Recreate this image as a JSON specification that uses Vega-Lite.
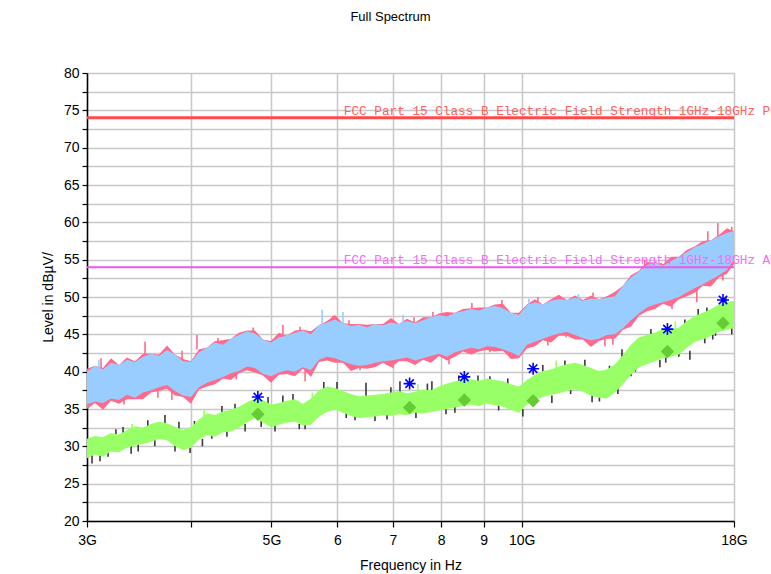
{
  "$schema": "https://vega.github.io/schema/vega-lite/v6.json",
  "width": 647,
  "height": 448,
  "autosize": {"type": "none"},
  "padding": {"left": 87, "top": 73, "right": 37, "bottom": 53},
  "background": "white",
  "title": {"text": "Full Spectrum", "fontSize": 13, "font": "Liberation Sans", "fontWeight": "normal", "color": "#000000", "offset": 42, "dx": -20, "frame": "group", "anchor": "middle"},
  "resolve": {"scale": {"color": "independent", "strokeWidth": "independent"}},
  "config": {
    "view": {"stroke": null},
    "font": "Liberation Sans",
    "axis": {
      "grid": true, "gridColor": "#c8c8c8", "gridWidth": 1.5,
      "domainColor": "#000000", "domainWidth": 1.5,
      "tickColor": "#000000", "tickWidth": 1.2,
      "labelFont": "Liberation Sans", "labelFontSize": 14, "labelColor": "#000000",
      "titleFont": "Liberation Sans", "titleFontSize": 14, "titleFontWeight": "normal", "titleColor": "#000000",
      "labelOverlap": false, "labelFlush": false
    },
    "axisX": {"tickSize": 6, "labelPadding": 6, "titlePadding": 11},
    "axisY": {"tickSize": 5, "labelPadding": 3, "titlePadding": 8}
  },
  "datasets": {
    "band": [
      {"f":3.000,"phi":40.0,"plo":35.6,"ahi":31.0,"alo":28.4,"rhi":40.4,"rlo":35.0},
      {"f":3.067,"phi":40.8,"plo":36.0,"ahi":31.4,"alo":28.9,"rhi":40.8,"rlo":35.8},
      {"f":3.136,"phi":40.3,"plo":35.8,"ahi":31.2,"alo":28.6,"rhi":40.5,"rlo":34.9},
      {"f":3.206,"phi":41.2,"plo":36.4,"ahi":31.8,"alo":29.3,"rhi":41.8,"rlo":36.1},
      {"f":3.278,"phi":40.9,"plo":36.2,"ahi":31.6,"alo":29.2,"rhi":40.9,"rlo":35.7},
      {"f":3.351,"phi":41.6,"plo":36.9,"ahi":32.2,"alo":29.8,"rhi":41.9,"rlo":36.3},
      {"f":3.426,"phi":41.3,"plo":36.5,"ahi":32.7,"alo":30.1,"rhi":41.4,"rlo":36.3},
      {"f":3.503,"phi":42.0,"plo":37.2,"ahi":32.5,"alo":30.3,"rhi":42.4,"rlo":36.3},
      {"f":3.582,"phi":42.4,"plo":37.5,"ahi":33.0,"alo":30.6,"rhi":42.4,"rlo":37.2},
      {"f":3.662,"phi":42.1,"plo":37.9,"ahi":33.3,"alo":31.0,"rhi":42.3,"rlo":37.4},
      {"f":3.744,"phi":42.9,"plo":38.2,"ahi":33.1,"alo":30.8,"rhi":43.5,"rlo":37.7},
      {"f":3.828,"phi":42.3,"plo":37.4,"ahi":32.6,"alo":30.0,"rhi":42.3,"rlo":36.8},
      {"f":3.914,"phi":41.4,"plo":36.8,"ahi":32.2,"alo":29.5,"rhi":41.7,"rlo":36.6},
      {"f":4.001,"phi":41.3,"plo":36.6,"ahi":32.6,"alo":29.8,"rhi":41.4,"rlo":35.7},
      {"f":4.091,"phi":42.6,"plo":37.9,"ahi":33.6,"alo":30.9,"rhi":43.0,"rlo":37.6},
      {"f":4.182,"phi":43.2,"plo":38.5,"ahi":34.4,"alo":31.5,"rhi":43.2,"rlo":38.0},
      {"f":4.276,"phi":43.9,"plo":38.9,"ahi":34.2,"alo":31.3,"rhi":44.1,"rlo":38.3},
      {"f":4.372,"phi":43.6,"plo":39.3,"ahi":34.7,"alo":31.9,"rhi":44.2,"rlo":39.1},
      {"f":4.470,"phi":44.4,"plo":39.8,"ahi":34.9,"alo":32.0,"rhi":44.4,"rlo":38.9},
      {"f":4.570,"phi":44.9,"plo":40.1,"ahi":35.3,"alo":32.5,"rhi":45.2,"rlo":39.8},
      {"f":4.672,"phi":45.4,"plo":40.7,"ahi":35.9,"alo":33.2,"rhi":45.5,"rlo":40.2},
      {"f":4.777,"phi":45.1,"plo":40.5,"ahi":36.4,"alo":33.8,"rhi":45.5,"rlo":39.9},
      {"f":4.884,"phi":44.3,"plo":39.7,"ahi":36.2,"alo":33.2,"rhi":44.3,"rlo":39.5},
      {"f":4.993,"phi":43.9,"plo":39.4,"ahi":35.6,"alo":32.6,"rhi":44.1,"rlo":38.5},
      {"f":5.105,"phi":44.6,"plo":39.9,"ahi":35.8,"alo":32.9,"rhi":45.2,"rlo":39.6},
      {"f":5.219,"phi":44.8,"plo":40.2,"ahi":36.1,"alo":33.2,"rhi":44.8,"rlo":39.7},
      {"f":5.336,"phi":45.2,"plo":40.0,"ahi":36.3,"alo":33.3,"rhi":45.5,"rlo":39.4},
      {"f":5.456,"phi":45.5,"plo":40.6,"ahi":35.7,"alo":32.8,"rhi":45.6,"rlo":40.4},
      {"f":5.578,"phi":45.0,"plo":40.2,"ahi":36.4,"alo":32.9,"rhi":45.4,"rlo":39.3},
      {"f":5.703,"phi":46.2,"plo":41.6,"ahi":37.5,"alo":34.0,"rhi":46.2,"rlo":41.3},
      {"f":5.831,"phi":46.6,"plo":42.0,"ahi":38.0,"alo":34.6,"rhi":46.8,"rlo":41.5},
      {"f":5.962,"phi":47.0,"plo":41.8,"ahi":37.8,"alo":34.9,"rhi":47.6,"rlo":41.2},
      {"f":6.095,"phi":46.5,"plo":41.4,"ahi":37.4,"alo":34.5,"rhi":46.5,"rlo":41.2},
      {"f":6.232,"phi":46.1,"plo":41.0,"ahi":37.0,"alo":34.1,"rhi":46.4,"rlo":40.1},
      {"f":6.371,"phi":46.3,"plo":40.8,"ahi":36.7,"alo":33.8,"rhi":46.4,"rlo":40.5},
      {"f":6.514,"phi":45.9,"plo":40.9,"ahi":36.8,"alo":33.9,"rhi":46.3,"rlo":40.4},
      {"f":6.660,"phi":46.4,"plo":41.2,"ahi":36.9,"alo":34.0,"rhi":46.4,"rlo":40.6},
      {"f":6.809,"phi":46.2,"plo":41.4,"ahi":37.0,"alo":34.2,"rhi":46.4,"rlo":41.2},
      {"f":6.962,"phi":46.6,"plo":41.5,"ahi":37.2,"alo":34.1,"rhi":47.2,"rlo":40.6},
      {"f":7.118,"phi":46.4,"plo":41.7,"ahi":37.4,"alo":34.3,"rhi":46.4,"rlo":41.4},
      {"f":7.277,"phi":46.8,"plo":41.9,"ahi":37.1,"alo":34.2,"rhi":47.1,"rlo":41.4},
      {"f":7.440,"phi":46.5,"plo":41.5,"ahi":37.3,"alo":34.5,"rhi":46.6,"rlo":40.9},
      {"f":7.607,"phi":46.9,"plo":41.8,"ahi":37.6,"alo":34.4,"rhi":47.3,"rlo":41.6},
      {"f":7.777,"phi":47.3,"plo":42.1,"ahi":37.5,"alo":34.6,"rhi":47.3,"rlo":41.2},
      {"f":7.951,"phi":47.6,"plo":42.4,"ahi":38.0,"alo":34.8,"rhi":47.8,"rlo":42.1},
      {"f":8.129,"phi":47.4,"plo":42.0,"ahi":38.4,"alo":35.0,"rhi":48.0,"rlo":41.5},
      {"f":8.311,"phi":47.9,"plo":42.6,"ahi":38.7,"alo":35.2,"rhi":47.9,"rlo":42.0},
      {"f":8.498,"phi":48.1,"plo":42.9,"ahi":38.9,"alo":35.4,"rhi":48.4,"rlo":42.7},
      {"f":8.688,"phi":48.4,"plo":43.2,"ahi":39.0,"alo":35.6,"rhi":48.5,"rlo":42.3},
      {"f":8.883,"phi":48.2,"plo":43.0,"ahi":38.8,"alo":35.4,"rhi":48.6,"rlo":42.7},
      {"f":9.081,"phi":48.6,"plo":43.4,"ahi":39.1,"alo":35.7,"rhi":48.6,"rlo":42.9},
      {"f":9.284,"phi":48.8,"plo":43.3,"ahi":38.9,"alo":35.5,"rhi":49.0,"rlo":42.7},
      {"f":9.492,"phi":48.5,"plo":43.0,"ahi":38.7,"alo":35.3,"rhi":49.1,"rlo":42.8},
      {"f":9.705,"phi":47.9,"plo":42.6,"ahi":38.3,"alo":34.9,"rhi":47.9,"rlo":41.7},
      {"f":9.922,"phi":47.6,"plo":42.1,"ahi":38.0,"alo":34.5,"rhi":47.9,"rlo":41.8},
      {"f":10.145,"phi":48.9,"plo":43.6,"ahi":38.9,"alo":35.6,"rhi":49.0,"rlo":43.1},
      {"f":10.372,"phi":49.3,"plo":44.0,"ahi":39.6,"alo":36.2,"rhi":49.7,"rlo":43.4},
      {"f":10.604,"phi":49.0,"plo":44.4,"ahi":40.1,"alo":36.6,"rhi":49.0,"rlo":44.2},
      {"f":10.842,"phi":49.5,"plo":44.8,"ahi":40.3,"alo":36.9,"rhi":49.7,"rlo":43.9},
      {"f":11.085,"phi":49.7,"plo":45.1,"ahi":40.7,"alo":37.1,"rhi":50.3,"rlo":44.8},
      {"f":11.333,"phi":49.6,"plo":45.3,"ahi":41.0,"alo":37.4,"rhi":49.6,"rlo":44.8},
      {"f":11.587,"phi":49.9,"plo":44.9,"ahi":41.2,"alo":37.6,"rhi":50.2,"rlo":44.3},
      {"f":11.846,"phi":49.5,"plo":44.5,"ahi":40.9,"alo":37.3,"rhi":49.6,"rlo":44.3},
      {"f":12.112,"phi":49.8,"plo":44.2,"ahi":40.5,"alo":36.8,"rhi":50.2,"rlo":43.3},
      {"f":12.383,"phi":49.7,"plo":44.4,"ahi":40.1,"alo":36.5,"rhi":49.7,"rlo":44.1},
      {"f":12.660,"phi":49.9,"plo":44.9,"ahi":40.3,"alo":36.4,"rhi":50.1,"rlo":44.4},
      {"f":12.944,"phi":50.1,"plo":45.0,"ahi":41.0,"alo":37.2,"rhi":50.7,"rlo":44.4},
      {"f":13.234,"phi":51.5,"plo":45.8,"ahi":42.2,"alo":38.3,"rhi":51.5,"rlo":45.6},
      {"f":13.530,"phi":52.6,"plo":46.9,"ahi":43.6,"alo":39.6,"rhi":52.9,"rlo":46.0},
      {"f":13.833,"phi":53.4,"plo":47.8,"ahi":44.6,"alo":40.6,"rhi":53.5,"rlo":47.5},
      {"f":14.143,"phi":54.3,"plo":48.6,"ahi":44.9,"alo":41.0,"rhi":54.7,"rlo":48.1},
      {"f":14.460,"phi":54.6,"plo":49.0,"ahi":45.2,"alo":41.4,"rhi":54.6,"rlo":48.4},
      {"f":14.784,"phi":54.2,"plo":49.3,"ahi":45.7,"alo":41.8,"rhi":54.4,"rlo":49.1},
      {"f":15.115,"phi":54.8,"plo":49.6,"ahi":45.6,"alo":42.0,"rhi":55.4,"rlo":48.7},
      {"f":15.453,"phi":55.4,"plo":50.0,"ahi":45.9,"alo":42.3,"rhi":55.4,"rlo":49.7},
      {"f":15.799,"phi":56.0,"plo":50.6,"ahi":46.8,"alo":43.2,"rhi":56.3,"rlo":50.1},
      {"f":16.153,"phi":56.7,"plo":51.2,"ahi":47.5,"alo":44.0,"rhi":56.8,"rlo":50.6},
      {"f":16.515,"phi":57.1,"plo":51.7,"ahi":47.9,"alo":44.3,"rhi":57.5,"rlo":51.5},
      {"f":16.885,"phi":57.6,"plo":52.3,"ahi":48.4,"alo":44.8,"rhi":57.6,"rlo":51.4},
      {"f":17.263,"phi":58.1,"plo":52.9,"ahi":49.0,"alo":45.3,"rhi":58.3,"rlo":52.6},
      {"f":17.651,"phi":58.6,"plo":53.6,"ahi":49.3,"alo":45.6,"rhi":59.2,"rlo":53.1},
      {"f":18.0,"phi":58.8,"plo":55.0,"ahi":49.5,"alo":45.8,"rhi":58.8,"rlo":54.4}
    ],
    "spikes": [
      {"f":3.017,"lo":35.2,"hi":36.6,"s":"r"},{"f":3.119,"lo":39.6,"hi":41.8,"s":"r"},{"f":3.324,"lo":35.6,"hi":37.0,"s":"r"},
      {"f":3.523,"lo":40.5,"hi":44.0,"s":"r"},{"f":3.651,"lo":36.5,"hi":38.0,"s":"r"},{"f":3.795,"lo":36.2,"hi":37.5,"s":"r"},
      {"f":3.903,"lo":41.0,"hi":42.8,"s":"r"},{"f":4.068,"lo":43.0,"hi":44.9,"s":"r"},{"f":4.312,"lo":43.0,"hi":44.5,"s":"r"},
      {"f":4.534,"lo":39.0,"hi":40.5,"s":"r"},{"f":4.753,"lo":44.5,"hi":45.9,"s":"r"},{"f":4.953,"lo":39.1,"hi":40.5,"s":"r"},
      {"f":5.161,"lo":45.0,"hi":46.3,"s":"r"},{"f":5.413,"lo":44.5,"hi":46.0,"s":"r"},{"f":5.488,"lo":38.7,"hi":40.2,"s":"r"},
      {"f":5.928,"lo":46.0,"hi":47.5,"s":"r"},{"f":6.198,"lo":45.5,"hi":46.9,"s":"r"},{"f":6.390,"lo":40.2,"hi":41.5,"s":"r"},
      {"f":7.000,"lo":40.5,"hi":41.8,"s":"r"},{"f":7.421,"lo":45.5,"hi":47.3,"s":"r"},{"f":7.819,"lo":46.5,"hi":48.0,"s":"r"},
      {"f":8.175,"lo":41.0,"hi":42.4,"s":"r"},{"f":8.711,"lo":47.5,"hi":49.2,"s":"r"},{"f":9.156,"lo":42.6,"hi":43.8,"s":"r"},
      {"f":9.466,"lo":48.0,"hi":49.6,"s":"r"},{"f":9.759,"lo":41.8,"hi":43.0,"s":"r"},{"f":10.457,"lo":48.5,"hi":50.0,"s":"r"},
      {"f":10.749,"lo":43.5,"hi":44.5,"s":"r"},{"f":11.302,"lo":44.6,"hi":45.6,"s":"r"},{"f":12.18,"lo":49.4,"hi":50.6,"s":"r"},
      {"f":12.59,"lo":43.4,"hi":44.6,"s":"r"},{"f":12.87,"lo":43.6,"hi":44.8,"s":"r"},{"f":13.53,"lo":46.4,"hi":47.5,"s":"r"},
      {"f":14.06,"lo":53.5,"hi":55.0,"s":"r"},{"f":14.50,"lo":54.0,"hi":54.8,"s":"r"},{"f":15.16,"lo":48.4,"hi":49.8,"s":"r"},
      {"f":15.80,"lo":55.0,"hi":56.2,"s":"r"},{"f":16.24,"lo":49.3,"hi":51.2,"s":"r"},{"f":16.74,"lo":57.0,"hi":58.8,"s":"r"},
      {"f":17.21,"lo":58.0,"hi":59.9,"s":"r"},{"f":17.45,"lo":52.2,"hi":53.3,"s":"r"},{"f":17.89,"lo":58.5,"hi":59.4,"s":"r"},
      {"f":3.100,"lo":40.0,"hi":41.6,"s":"b"},{"f":5.753,"lo":46.0,"hi":48.3,"s":"b"},{"f":6.095,"lo":46.5,"hi":48.0,"s":"b"},
      {"f":7.2,"lo":46.5,"hi":47.6,"s":"b"},{"f":10.2,"lo":48.5,"hi":49.8,"s":"b"},{"f":11.7,"lo":49.5,"hi":50.4,"s":"b"},
      {"f":3.042,"lo":27.7,"hi":29.0,"s":"k"},{"f":3.180,"lo":28.6,"hi":29.6,"s":"k"},{"f":3.315,"lo":31.5,"hi":32.6,"s":"k"},
      {"f":3.457,"lo":29.3,"hi":30.3,"s":"k"},{"f":3.723,"lo":33.0,"hi":34.2,"s":"k"},{"f":3.828,"lo":29.3,"hi":30.3,"s":"k"},
      {"f":3.991,"lo":29.1,"hi":30.0,"s":"k"},{"f":4.239,"lo":31.0,"hi":32.0,"s":"k"},{"f":4.359,"lo":34.3,"hi":35.4,"s":"k"},
      {"f":4.648,"lo":32.0,"hi":33.0,"s":"k"},{"f":4.953,"lo":35.5,"hi":36.6,"s":"k"},{"f":5.049,"lo":32.0,"hi":33.0,"s":"k"},
      {"f":5.307,"lo":35.8,"hi":37.0,"s":"k"},{"f":5.488,"lo":32.3,"hi":33.3,"s":"k"},{"f":5.657,"lo":35.6,"hi":36.9,"s":"k"},
      {"f":5.995,"lo":37.6,"hi":38.6,"s":"k"},{"f":6.302,"lo":33.5,"hi":34.4,"s":"k"},{"f":6.496,"lo":36.6,"hi":38.5,"s":"k"},
      {"f":6.886,"lo":33.6,"hi":34.5,"s":"k"},{"f":7.137,"lo":37.0,"hi":38.7,"s":"k"},{"f":7.797,"lo":37.4,"hi":38.7,"s":"k"},
      {"f":8.107,"lo":34.3,"hi":35.0,"s":"k"},{"f":8.858,"lo":38.6,"hi":39.5,"s":"k"},{"f":9.156,"lo":38.9,"hi":39.4,"s":"k"},
      {"f":10.03,"lo":34.0,"hi":35.0,"s":"k"},{"f":10.87,"lo":35.8,"hi":36.8,"s":"k"},{"f":11.27,"lo":40.8,"hi":41.5,"s":"k"},
      {"f":11.91,"lo":40.7,"hi":41.6,"s":"k"},{"f":12.15,"lo":35.9,"hi":36.8,"s":"k"},{"f":13.05,"lo":37.0,"hi":38.0,"s":"k"},
      {"f":13.53,"lo":39.4,"hi":40.5,"s":"k"},{"f":14.66,"lo":40.6,"hi":41.6,"s":"k"},{"f":15.71,"lo":46.0,"hi":47.0,"s":"k"},
      {"f":15.93,"lo":41.6,"hi":42.8,"s":"k"},{"f":16.70,"lo":48.0,"hi":48.6,"s":"k"},{"f":16.97,"lo":44.3,"hi":45.2,"s":"k"},
      {"f":17.89,"lo":45.0,"hi":46.0,"s":"k"},
      {"f":3.11,"lo":28.0,"hi":29.0,"s":"k"},{"f":3.25,"lo":31.4,"hi":32.3,"s":"k"},{"f":3.39,"lo":29.0,"hi":30.0,"s":"k"},
      {"f":3.55,"lo":32.6,"hi":33.5,"s":"k"},{"f":3.62,"lo":30.0,"hi":30.8,"s":"k"},{"f":3.87,"lo":32.4,"hi":33.3,"s":"k"},
      {"f":4.04,"lo":32.5,"hi":33.4,"s":"k"},{"f":4.13,"lo":30.0,"hi":31.0,"s":"k"},{"f":4.42,"lo":31.3,"hi":32.2,"s":"k"},
      {"f":4.52,"lo":34.8,"hi":35.7,"s":"k"},{"f":4.86,"lo":32.6,"hi":33.4,"s":"k"},{"f":5.16,"lo":35.8,"hi":36.8,"s":"k"},
      {"f":5.40,"lo":32.3,"hi":33.0,"s":"k"},{"f":5.78,"lo":37.6,"hi":38.6,"s":"k"},{"f":6.15,"lo":33.8,"hi":34.6,"s":"k"},
      {"f":6.66,"lo":33.4,"hi":34.2,"s":"k"},{"f":6.96,"lo":36.9,"hi":37.9,"s":"k"},{"f":7.46,"lo":33.8,"hi":34.6,"s":"k"},
      {"f":7.70,"lo":37.4,"hi":38.4,"s":"k"},{"f":8.31,"lo":34.5,"hi":35.4,"s":"k"},{"f":8.40,"lo":38.6,"hi":39.5,"s":"k"},
      {"f":9.38,"lo":34.8,"hi":35.6,"s":"k"},{"f":9.62,"lo":38.3,"hi":39.1,"s":"k"},{"f":10.6,"lo":40.0,"hi":40.9,"s":"k"},
      {"f":11.45,"lo":37.0,"hi":37.8,"s":"k"},{"f":12.4,"lo":36.0,"hi":36.8,"s":"k"},{"f":12.75,"lo":40.0,"hi":40.8,"s":"k"},
      {"f":13.2,"lo":42.0,"hi":43.0,"s":"k"},{"f":13.7,"lo":40.0,"hi":41.0,"s":"k"},{"f":14.3,"lo":44.8,"hi":45.7,"s":"k"},
      {"f":14.9,"lo":41.2,"hi":42.0,"s":"k"},{"f":15.45,"lo":42.0,"hi":42.8,"s":"k"},{"f":16.3,"lo":47.5,"hi":48.4,"s":"k"},
      {"f":16.6,"lo":43.8,"hi":44.6,"s":"k"},{"f":17.1,"lo":44.8,"hi":45.6,"s":"k"},{"f":17.6,"lo":49.2,"hi":50.0,"s":"k"},
      {"f":3.4,"lo":31.8,"hi":33.0,"s":"g"},{"f":4.15,"lo":33.8,"hi":35.0,"s":"g"},{"f":5.6,"lo":36.0,"hi":37.2,"s":"g"},
      {"f":7.5,"lo":37.2,"hi":38.3,"s":"g"},{"f":11.0,"lo":40.3,"hi":41.5,"s":"g"},{"f":15.3,"lo":45.6,"hi":46.7,"s":"g"}
    ],
    "marks": [
      {"f":4.815,"pk":36.6,"av":34.3},
      {"f":7.33,"pk":38.4,"av":35.2},
      {"f":8.53,"pk":39.3,"av":36.2},
      {"f":10.32,"pk":40.4,"av":36.1},
      {"f":14.97,"pk":45.7,"av":42.7},
      {"f":17.46,"pk":49.6,"av":46.5}
    ],
    "limits": [
      {"name":"FCC Part 15 Class B Electric Field Strength 1GHz-18GHz PK","level":74,"f":6.11,"kind":"pk"},
      {"name":"FCC Part 15 Class B Electric Field Strength 1GHz-18GHz AV","level":54,"f":6.11,"kind":"av"}
    ]
  },
  "layer": [
    {
      "data": {"name": "band"},
      "mark": {"type": "area", "color": "#ff6a8c", "opacity": 1},
      "encoding": {
        "x": {"field": "f", "type": "quantitative", "scale": {"type": "log", "domain": [3, 18], "nice": false},
          "axis": {"title": "Frequency in Hz", "values": [3, 4, 5, 6, 7, 8, 9, 10, 18], "labelExpr": "datum.value == 3 ? '3G' : datum.value == 4 ? '' : datum.value == 5 ? '5G' : datum.value == 10 ? '10G' : datum.value == 18 ? '18G' : format(datum.value, 'd')"}},
        "y": {"field": "rlo", "type": "quantitative", "scale": {"domain": [20, 80], "nice": false, "zero": false},
          "axis": {"title": "Level in dBµV/", "values": [20, 22.5, 25, 27.5, 30, 32.5, 35, 37.5, 40, 42.5, 45, 47.5, 50, 52.5, 55, 57.5, 60, 62.5, 65, 67.5, 70, 72.5, 75, 77.5, 80], "labelExpr": "datum.value % 5 == 0 ? format(datum.value, 'd') : ''"}},
        "y2": {"field": "rhi"}
      }
    },
    {
      "data": {"name": "spikes"},
      "mark": {"type": "rule", "strokeWidth": 1.6},
      "encoding": {
        "x": {"field": "f", "type": "quantitative", "scale": {"type": "log", "domain": [3, 18], "nice": false},
          "axis": {"title": "Frequency in Hz", "values": [3, 4, 5, 6, 7, 8, 9, 10, 18], "labelExpr": "datum.value == 3 ? '3G' : datum.value == 4 ? '' : datum.value == 5 ? '5G' : datum.value == 10 ? '10G' : datum.value == 18 ? '18G' : format(datum.value, 'd')"}},
        "y": {"field": "lo", "type": "quantitative", "scale": {"domain": [20, 80], "nice": false, "zero": false},
          "axis": {"title": "Level in dBµV/", "values": [20, 22.5, 25, 27.5, 30, 32.5, 35, 37.5, 40, 42.5, 45, 47.5, 50, 52.5, 55, 57.5, 60, 62.5, 65, 67.5, 70, 72.5, 75, 77.5, 80], "labelExpr": "datum.value % 5 == 0 ? format(datum.value, 'd') : ''"}},
        "y2": {"field": "hi"},
        "color": {"field": "s", "type": "nominal", "scale": {"domain": ["r", "b", "k", "g"], "range": ["#ff6a8c", "#99ccff", "#3a3a3a", "#99ff66"]}, "legend": null}
      }
    },
    {
      "data": {"name": "band"},
      "mark": {"type": "area", "color": "#99ccff", "opacity": 1},
      "encoding": {
        "x": {"field": "f", "type": "quantitative", "scale": {"type": "log", "domain": [3, 18], "nice": false},
          "axis": {"title": "Frequency in Hz", "values": [3, 4, 5, 6, 7, 8, 9, 10, 18], "labelExpr": "datum.value == 3 ? '3G' : datum.value == 4 ? '' : datum.value == 5 ? '5G' : datum.value == 10 ? '10G' : datum.value == 18 ? '18G' : format(datum.value, 'd')"}},
        "y": {"field": "plo", "type": "quantitative", "scale": {"domain": [20, 80], "nice": false, "zero": false},
          "axis": {"title": "Level in dBµV/", "values": [20, 22.5, 25, 27.5, 30, 32.5, 35, 37.5, 40, 42.5, 45, 47.5, 50, 52.5, 55, 57.5, 60, 62.5, 65, 67.5, 70, 72.5, 75, 77.5, 80], "labelExpr": "datum.value % 5 == 0 ? format(datum.value, 'd') : ''"}},
        "y2": {"field": "phi"}
      }
    },
    {
      "data": {"name": "band"},
      "mark": {"type": "area", "color": "#99ff66", "opacity": 1},
      "encoding": {
        "x": {"field": "f", "type": "quantitative", "scale": {"type": "log", "domain": [3, 18], "nice": false},
          "axis": {"title": "Frequency in Hz", "values": [3, 4, 5, 6, 7, 8, 9, 10, 18], "labelExpr": "datum.value == 3 ? '3G' : datum.value == 4 ? '' : datum.value == 5 ? '5G' : datum.value == 10 ? '10G' : datum.value == 18 ? '18G' : format(datum.value, 'd')"}},
        "y": {"field": "alo", "type": "quantitative", "scale": {"domain": [20, 80], "nice": false, "zero": false},
          "axis": {"title": "Level in dBµV/", "values": [20, 22.5, 25, 27.5, 30, 32.5, 35, 37.5, 40, 42.5, 45, 47.5, 50, 52.5, 55, 57.5, 60, 62.5, 65, 67.5, 70, 72.5, 75, 77.5, 80], "labelExpr": "datum.value % 5 == 0 ? format(datum.value, 'd') : ''"}},
        "y2": {"field": "ahi"}
      }
    },
    {
      "data": {"name": "limits"},
      "transform": [{"filter": "datum.kind == 'pk'"}],
      "mark": {"type": "rule", "color": "#ff4a4a", "strokeWidth": 3},
      "encoding": {
        "y": {"field": "level", "type": "quantitative", "scale": {"domain": [20, 80], "nice": false, "zero": false},
          "axis": {"title": "Level in dBµV/", "values": [20, 22.5, 25, 27.5, 30, 32.5, 35, 37.5, 40, 42.5, 45, 47.5, 50, 52.5, 55, 57.5, 60, 62.5, 65, 67.5, 70, 72.5, 75, 77.5, 80], "labelExpr": "datum.value % 5 == 0 ? format(datum.value, 'd') : ''"}}
      }
    },
    {
      "data": {"name": "limits"},
      "transform": [{"filter": "datum.kind == 'av'"}],
      "mark": {"type": "rule", "color": "#f055f0", "strokeWidth": 2},
      "encoding": {
        "y": {"field": "level", "type": "quantitative", "scale": {"domain": [20, 80], "nice": false, "zero": false},
          "axis": {"title": "Level in dBµV/", "values": [20, 22.5, 25, 27.5, 30, 32.5, 35, 37.5, 40, 42.5, 45, 47.5, 50, 52.5, 55, 57.5, 60, 62.5, 65, 67.5, 70, 72.5, 75, 77.5, 80], "labelExpr": "datum.value % 5 == 0 ? format(datum.value, 'd') : ''"}}
      }
    },
    {
      "data": {"name": "limits"},
      "mark": {"type": "text", "align": "left", "baseline": "alphabetic", "dy": -3, "font": "Liberation Mono", "fontSize": 12.7},
      "encoding": {
        "x": {"field": "f", "type": "quantitative", "scale": {"type": "log", "domain": [3, 18], "nice": false},
          "axis": {"title": "Frequency in Hz", "values": [3, 4, 5, 6, 7, 8, 9, 10, 18], "labelExpr": "datum.value == 3 ? '3G' : datum.value == 4 ? '' : datum.value == 5 ? '5G' : datum.value == 10 ? '10G' : datum.value == 18 ? '18G' : format(datum.value, 'd')"}},
        "y": {"field": "level", "type": "quantitative", "scale": {"domain": [20, 80], "nice": false, "zero": false},
          "axis": {"title": "Level in dBµV/", "values": [20, 22.5, 25, 27.5, 30, 32.5, 35, 37.5, 40, 42.5, 45, 47.5, 50, 52.5, 55, 57.5, 60, 62.5, 65, 67.5, 70, 72.5, 75, 77.5, 80], "labelExpr": "datum.value % 5 == 0 ? format(datum.value, 'd') : ''"}},
        "text": {"field": "name"},
        "color": {"field": "kind", "type": "nominal", "scale": {"domain": ["pk", "av"], "range": ["#ff6060", "#ff66ff"]}, "legend": null}
      }
    },
    {
      "data": {"name": "marks"},
      "mark": {"type": "point", "shape": "M0,-1L0,1M-1,0L1,0M-0.7,-0.7L0.7,0.7M-0.7,0.7L0.7,-0.7", "filled": false, "stroke": "#0000ff", "strokeWidth": 1.6, "size": 144, "opacity": 1},
      "encoding": {
        "x": {"field": "f", "type": "quantitative", "scale": {"type": "log", "domain": [3, 18], "nice": false},
          "axis": {"title": "Frequency in Hz", "values": [3, 4, 5, 6, 7, 8, 9, 10, 18], "labelExpr": "datum.value == 3 ? '3G' : datum.value == 4 ? '' : datum.value == 5 ? '5G' : datum.value == 10 ? '10G' : datum.value == 18 ? '18G' : format(datum.value, 'd')"}},
        "y": {"field": "pk", "type": "quantitative", "scale": {"domain": [20, 80], "nice": false, "zero": false},
          "axis": {"title": "Level in dBµV/", "values": [20, 22.5, 25, 27.5, 30, 32.5, 35, 37.5, 40, 42.5, 45, 47.5, 50, 52.5, 55, 57.5, 60, 62.5, 65, 67.5, 70, 72.5, 75, 77.5, 80], "labelExpr": "datum.value % 5 == 0 ? format(datum.value, 'd') : ''"}}
      }
    },
    {
      "data": {"name": "marks"},
      "mark": {"type": "point", "shape": "diamond", "filled": true, "color": "#66cc33", "size": 180, "opacity": 1},
      "encoding": {
        "x": {"field": "f", "type": "quantitative", "scale": {"type": "log", "domain": [3, 18], "nice": false},
          "axis": {"title": "Frequency in Hz", "values": [3, 4, 5, 6, 7, 8, 9, 10, 18], "labelExpr": "datum.value == 3 ? '3G' : datum.value == 4 ? '' : datum.value == 5 ? '5G' : datum.value == 10 ? '10G' : datum.value == 18 ? '18G' : format(datum.value, 'd')"}},
        "y": {"field": "av", "type": "quantitative", "scale": {"domain": [20, 80], "nice": false, "zero": false},
          "axis": {"title": "Level in dBµV/", "values": [20, 22.5, 25, 27.5, 30, 32.5, 35, 37.5, 40, 42.5, 45, 47.5, 50, 52.5, 55, 57.5, 60, 62.5, 65, 67.5, 70, 72.5, 75, 77.5, 80], "labelExpr": "datum.value % 5 == 0 ? format(datum.value, 'd') : ''"}}
      }
    }
  ]
}
